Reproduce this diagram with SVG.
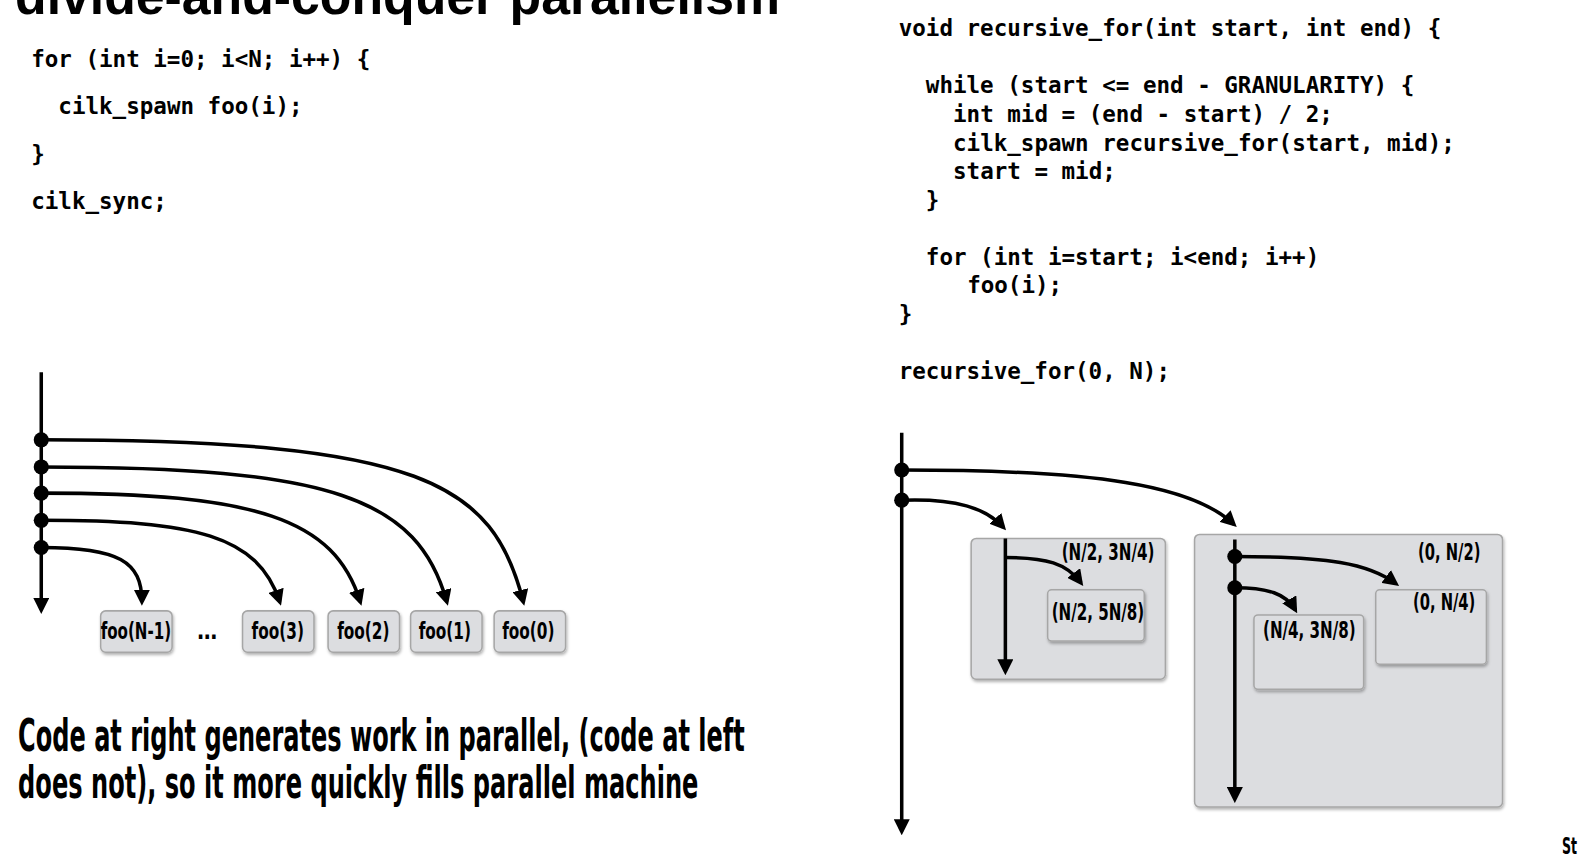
<svg xmlns="http://www.w3.org/2000/svg" width="1578" height="854" viewBox="0 0 1578 854">
<style>
.code{font-family:"DejaVu Sans Mono","Liberation Mono",monospace;font-weight:bold;font-size:22.4px;fill:#000}
.lbl{font-family:"Liberation Sans Narrow","DejaVu Sans Condensed","Liberation Sans",sans-serif;font-weight:bold;font-size:22px;fill:#000}
.big{font-family:"Liberation Sans Narrow","DejaVu Sans Condensed","Liberation Sans",sans-serif;font-weight:bold;font-size:44px;fill:#000}
.title{font-family:"Liberation Sans","DejaVu Sans",sans-serif;font-weight:bold;font-size:52px;fill:#000}
.box{fill:#dcdde0;stroke:#a6a6a6;stroke-width:1.5;filter:url(#sh)}
.ln{fill:none;stroke:#000;stroke-width:3.5}
.arr{marker-end:url(#ah)}
.dot{fill:#000}
</style>
<defs>
<filter id="sh" x="-10%" y="-10%" width="130%" height="130%">
<feDropShadow dx="1" dy="2" stdDeviation="1.5" flood-color="#000" flood-opacity="0.3"/>
</filter>
<marker id="ah" viewBox="0 0 16 16" refX="12" refY="8" markerWidth="16" markerHeight="16" markerUnits="userSpaceOnUse" orient="auto">
<path d="M0,0 L16,8 L0,16 z" fill="#000"/>
</marker>
</defs>
<rect width="1578" height="854" fill="#fff"/>
<g transform="scale(1.00638)">
<g id="title">
<text class="title" x="15" y="14" textLength="760" lengthAdjust="spacingAndGlyphs">divide-and-conquer parallelism</text>
</g>
<g id="code-left">
<text class="code" x="31" y="67">for (int i=0; i&lt;N; i++) {</text>
<text class="code" x="58" y="113">cilk_spawn foo(i);</text>
<text class="code" x="31" y="161">}</text>
<text class="code" x="31" y="208">cilk_sync;</text>
</g>
<g id="code-right">
<text class="code" x="893" y="36">void recursive_for(int start, int end) {</text>
<text class="code" x="920" y="92.8">while (start &lt;= end - GRANULARITY) {</text>
<text class="code" x="947" y="121.2">int mid = (end - start) / 2;</text>
<text class="code" x="947" y="149.6">cilk_spawn recursive_for(start, mid);</text>
<text class="code" x="947" y="178">start = mid;</text>
<text class="code" x="920" y="206.4">}</text>
<text class="code" x="920" y="263.2">for (int i=start; i&lt;end; i++)</text>
<text class="code" x="961" y="291.6">foo(i);</text>
<text class="code" x="893" y="320">}</text>
<text class="code" x="893" y="376.8">recursive_for(0, N);</text>
</g>

<g id="foo-n-1"><rect class="box" x="100" y="607" width="71" height="41" rx="5"/><text class="lbl" x="100" y="635" textLength="70" lengthAdjust="spacingAndGlyphs">foo(N-1)</text></g>
<g id="ellipsis"><text class="lbl" x="196" y="635">…</text></g>
<g id="foo-3"><rect class="box" x="241" y="607" width="71" height="41" rx="5"/><text class="lbl" x="250" y="635" textLength="52" lengthAdjust="spacingAndGlyphs">foo(3)</text></g>
<g id="foo-2"><rect class="box" x="326" y="607" width="71" height="41" rx="5"/><text class="lbl" x="335" y="635" textLength="52" lengthAdjust="spacingAndGlyphs">foo(2)</text></g>
<g id="foo-1"><rect class="box" x="408" y="607" width="71" height="41" rx="5"/><text class="lbl" x="416" y="635" textLength="52" lengthAdjust="spacingAndGlyphs">foo(1)</text></g>
<g id="foo-0"><rect class="box" x="491" y="607" width="71" height="41" rx="5"/><text class="lbl" x="499" y="635" textLength="52" lengthAdjust="spacingAndGlyphs">foo(0)</text></g>

<g id="range-n2-3n4"><rect class="box" x="965" y="535" width="193" height="140" rx="5"/><text class="lbl" x="1055" y="556" textLength="92" lengthAdjust="spacingAndGlyphs">(N/2, 3N/4)</text></g>
<g id="range-n2-5n8"><rect class="box" x="1041" y="586" width="96" height="51" rx="4"/><text class="lbl" x="1045" y="616" textLength="92" lengthAdjust="spacingAndGlyphs">(N/2, 5N/8)</text></g>
<g id="range-0-n2"><rect class="box" x="1187" y="531" width="306" height="271" rx="5"/><text class="lbl" x="1409" y="556" textLength="62" lengthAdjust="spacingAndGlyphs">(0, N/2)</text></g>
<g id="range-0-n4"><rect class="box" x="1367" y="586" width="110" height="74" rx="4"/><text class="lbl" x="1404" y="606" textLength="62" lengthAdjust="spacingAndGlyphs">(0, N/4)</text></g>
<g id="range-n4-3n8"><rect class="box" x="1246" y="611" width="109" height="74" rx="4"/><text class="lbl" x="1255" y="634" textLength="92" lengthAdjust="spacingAndGlyphs">(N/4, 3N/8)</text></g>

<g id="connectors">
<path class="ln arr" d="M41,370 L41,606"/>
<path class="ln arr" d="M41,437 C420,437 490,480 520,598"/>
<path class="ln arr" d="M41,464 C330,464 415,495 444,598"/>
<path class="ln arr" d="M41,490 C255,490 332,515 358,598"/>
<path class="ln arr" d="M41,517 C195,517 256,532 278,598"/>
<path class="ln arr" d="M41,544 C118,544 141,558 141,598"/>
<circle class="dot" cx="41" cy="437" r="7.5"/>
<circle class="dot" cx="41" cy="464" r="7.5"/>
<circle class="dot" cx="41" cy="490" r="7.5"/>
<circle class="dot" cx="41" cy="517" r="7.5"/>
<circle class="dot" cx="41" cy="544" r="7.5"/>

<path class="ln arr" d="M896,430 L896,826"/>
<path class="ln arr" d="M896,467 C1090,467 1185,482 1226,521"/>
<path class="ln arr" d="M896,497 C950,495 980,505 997,524"/>
<circle class="dot" cx="896" cy="467" r="7.5"/>
<circle class="dot" cx="896" cy="497" r="7.5"/>

<path class="ln arr" d="M999,535 L999,667"/>
<path class="ln arr" d="M999,554 C1040,554 1060,560 1074,579"/>

<path class="ln arr" d="M1227,536 L1227,794"/>
<path class="ln arr" d="M1227,553 C1320,553 1360,560 1387,580"/>
<path class="ln arr" d="M1227,584 C1260,584 1278,590 1287,606"/>
<circle class="dot" cx="1227" cy="553" r="7.5"/>
<circle class="dot" cx="1227" cy="584" r="7.5"/>
</g>

<g id="caption">
<text class="big" x="18" y="746" textLength="722" lengthAdjust="spacingAndGlyphs">Code at right generates work in parallel, (code at left</text>
<text class="big" x="18" y="793" textLength="676" lengthAdjust="spacingAndGlyphs">does not), so it more quickly fills parallel machine</text>
</g>
<g id="footer"><text class="lbl" x="1552" y="849" font-size="20" textLength="15" lengthAdjust="spacingAndGlyphs">St</text></g>
</g>
</svg>
